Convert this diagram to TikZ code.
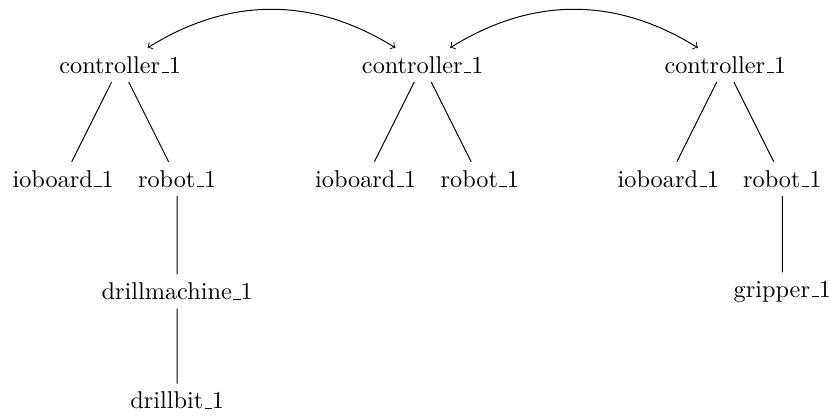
\documentclass[tikz,border=0pt]{standalone}
\usetikzlibrary{positioning}

% short underscore, as in the classic text fonts
\newcommand{\lowbar}{\leavevmode\kern.06em\vbox{\hrule width.3em}}

\begin{document}
\begin{tikzpicture}[node distance=4.38cm,on grid]
  \tikzstyle{unit}=[inner sep=3.33pt]
  \useasboundingbox (-1.74,0.94) rectangle (10.29,-5.08);
  % Controllers
  \node[unit] (c1) {controller\lowbar 1};
  \node[unit] (c2) [right=of c1] {controller\lowbar 1};
  \node[unit] (c3) [right=of c2] {controller\lowbar 1};

  % Devices
  \node[unit] (io1) [below left=1.65cm and 0.825cm of c1] {ioboard\lowbar 1};
  \node[unit] (r1) [below right=1.65cm and 0.825cm of c1] {robot\lowbar 1};
  \node[unit] (io2) [below left=1.65cm and 0.825cm of c2] {ioboard\lowbar 1};
  \node[unit] (r2) [below right=1.65cm and 0.825cm of c2] {robot\lowbar 1};
  \node[unit] (io3) [below left=1.65cm and 0.825cm of c3] {ioboard\lowbar 1};
  \node[unit] (r3) [below right=1.65cm and 0.825cm of c3] {robot\lowbar 1};

  % Tools
  \node[unit] (dm1) [below=1.63cm of r1] {drillmachine\lowbar 1};
  \node[unit] (db1) [below=1.58cm of dm1] {drillbit\lowbar 1};
  \node[unit] (gr3) [below=1.63cm of r3] {gripper\lowbar 1};

  % Links
  \draw (c1) -- (io1) (c1) -- (r1) (r1) -- (dm1) (dm1) -- (db1);
  \draw (c2) -- (io2) (c2) -- (r2);
  \draw (c3) -- (io3) (c3) -- (r3) (r3) -- (gr3);
  \path[<->] (c1) edge [bend left=32] (c2)
             (c2) edge [bend left=32] (c3);
\end{tikzpicture}
\end{document}
